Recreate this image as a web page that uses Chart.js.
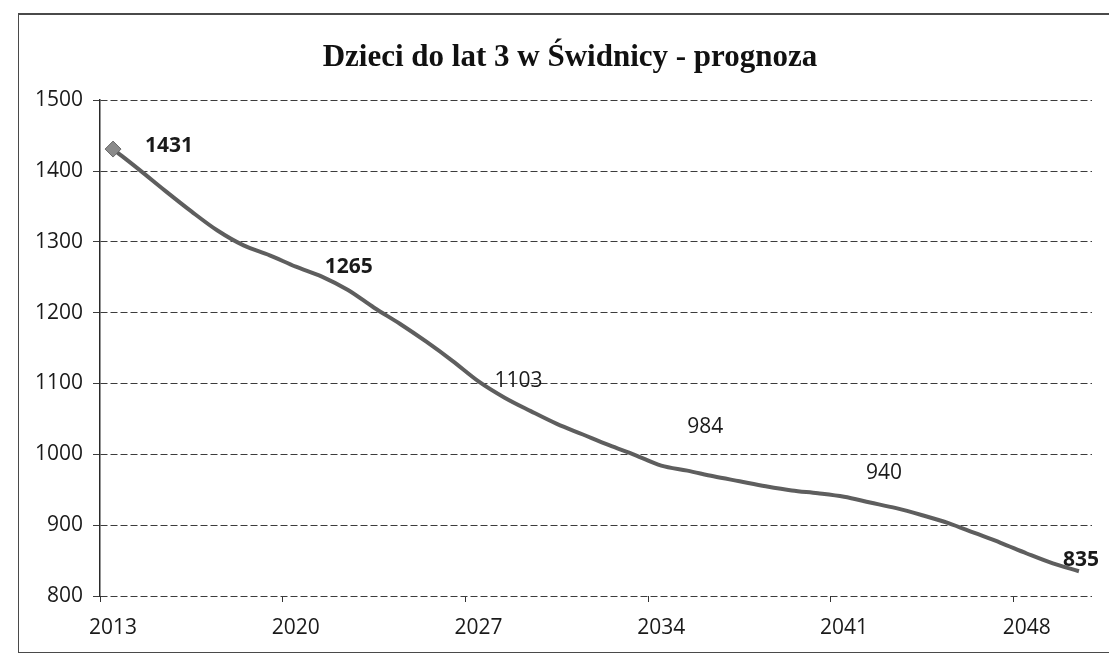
<!DOCTYPE html>
<html>
<head>
<meta charset="utf-8">
<script src="https://cdn.jsdelivr.net/npm/chart.js@4.4.1/dist/chart.umd.min.js"></script>
<style>
    html, body { margin: 0; padding: 0; background: #fff; overflow: hidden; }
    #wrap { position: relative; width: 1109px; height: 659px; }
    #frame {
        position: absolute; left: 18px; top: 13px; width: 1120px; height: 637px;
        border: 1px solid #4a4a4a; border-top-width: 2px; pointer-events: none;
    }
    canvas { position: absolute; left: 0; top: 0; }
</style>
</head>
<body>
<div id="wrap">
    <canvas id="chart" width="1109" height="659"></canvas>
    <div id="frame"></div>
</div>
<script>
const years = [
    2013, 2014, 2015, 2016, 2017, 2018, 2019, 2020, 2021, 2022,
    2023, 2024, 2025, 2026, 2027, 2028, 2029, 2030, 2031, 2032,
    2033, 2034, 2035, 2036, 2037, 2038, 2039, 2040, 2041, 2042,
    2043, 2044, 2045, 2046, 2047, 2048, 2049, 2050
];
const children = [
    1431, 1402, 1372, 1343, 1316, 1295, 1281, 1265, 1251, 1232,
    1207, 1184, 1159, 1132, 1103, 1080, 1061, 1043, 1028, 1013,
    999, 984, 977, 969, 962, 955, 949, 945, 940, 932,
    924, 914, 903, 889, 875, 860, 846, 835
];
const yTicks = [800, 900, 1000, 1100, 1200, 1300, 1400, 1500];
const labelYears = [2013, 2020, 2027, 2034, 2041, 2050];
const labelBold = [true, true, false, false, false, true];

// pixel shifts of the value labels from their points (placed by hand in the original)
const labelShift = [[32, -3], [29, 0], [16, 0], [26, -39], [22, -24], [-16, -11]];

const FONT = '"Open Sans", "Liberation Sans", sans-serif';

const valueLabels = {
    id: 'valueLabels',
    afterDatasetsDraw(chart) {
        const meta = chart.getDatasetMeta(0);
        const ctx = chart.ctx;
        ctx.save();
        ctx.textAlign = 'left';
        ctx.textBaseline = 'middle';
        ctx.fillStyle = '#1a1a1a';
        labelYears.forEach((yr, k) => {
            const i = years.indexOf(yr);
            const pt = meta.data[i];
            ctx.font = (labelBold[k] ? 'bold ' : '') + '21px ' + FONT;
            ctx.fillText(String(children[i]), pt.x + labelShift[k][0], pt.y + labelShift[k][1]);
        });
        ctx.restore();
    }
};

new Chart(document.getElementById('chart'), {
    type: 'line',
    data: {
        labels: years.map(String),
        datasets: [{
            data: children,
            borderColor: '#5e5e5e',
            borderWidth: 4,
            cubicInterpolationMode: 'monotone',
            pointStyle: 'rectRot',
            pointRadius: ctx => ctx.dataIndex === 0 ? 8 : 0,
            pointBackgroundColor: '#8a8a8a',
            pointBorderColor: '#6a6a6a',
            pointBorderWidth: 1,
            fill: false
        }]
    },
    options: {
        responsive: false,
        animation: false,
        events: [],
        layout: { padding: { left: 31, right: 0, top: 0, bottom: 0 } },
        plugins: {
            legend: { display: false },
            tooltip: { enabled: false },
            title: {
                display: true,
                text: 'Dzieci do lat 3 w Świdnicy - prognoza',
                color: '#111',
                font: { family: '"Liberation Serif", "Times New Roman", serif', size: 31, weight: 'bold' },
                padding: { top: 39, bottom: 24 }
            }
        },
        scales: {
            x: {
                offset: true,
                grid: {
                    offset: true,
                    drawOnChartArea: false,
                    drawTicks: true,
                    tickLength: 6,
                    tickColor: ctx => ctx.index % 7 === 0 ? '#333' : 'rgba(0,0,0,0)',
                    color: 'rgba(0,0,0,0)'
                },
                border: { display: false },
                ticks: {
                    autoSkip: false,
                    maxRotation: 0,
                    padding: 13,
                    color: '#1a1a1a',
                    font: { family: FONT, size: 21 },
                    callback: function (v, i) { return i % 7 === 0 ? this.getLabelForValue(v) : ''; }
                },
                afterFit: s => { s.height = 63; }
            },
            y: {
                min: 800,
                max: 1500,
                afterBuildTicks: s => { s.ticks = yTicks.map(v => ({ value: v })); },
                grid: {
                    color: '#3c3c3c',
                    lineWidth: 1,
                    drawTicks: true,
                    tickLength: 7,
                    tickColor: '#3c3c3c'
                },
                border: { display: true, color: '#2a2a2a', width: 1.5, dash: [7, 3] },
                ticks: {
                    padding: 10,
                    color: '#1a1a1a',
                    font: { family: FONT, size: 21 },
                    callback: v => String(v)
                },
                afterFit: s => { s.width = 69; }
            },
            // empty right-hand axis: keeps the plot right edge off the frame
            y2: {
                position: 'right',
                min: 800,
                max: 1500,
                grid: { drawOnChartArea: false, drawTicks: false },
                border: { display: false },
                ticks: { display: false },
                afterFit: s => { s.width = 17; }
            }
        }
    },
    plugins: [valueLabels]
});
</script>
</body>
</html>
